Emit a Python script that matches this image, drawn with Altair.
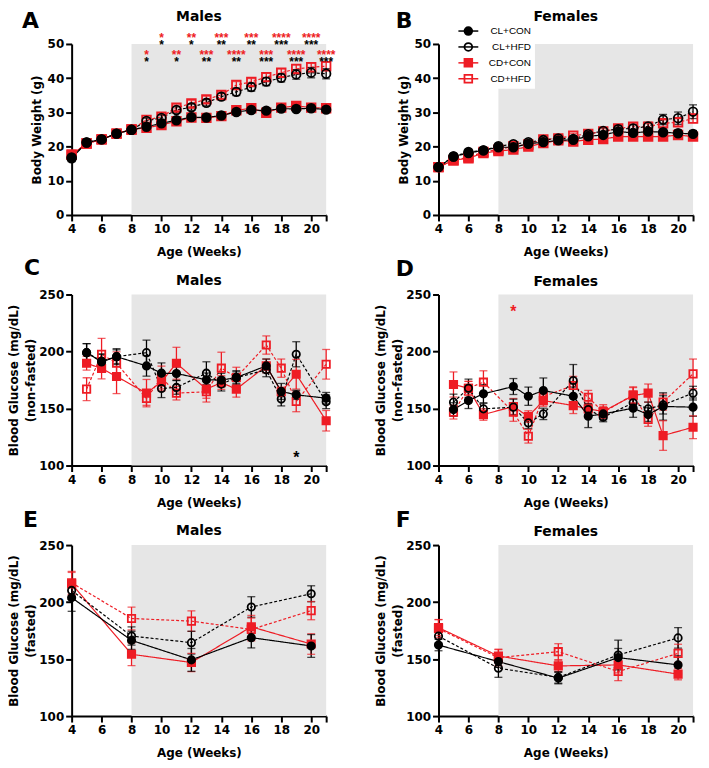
import altair as alt
import pandas as pd

RED = "#ee1c24"
GREY = "#e6e6e6"
FONT = "DejaVu Sans"

GROUPS = ["CL+CON", "CL+HFD", "CD+CON", "CD+HFD"]
DRAW_ORDER = ["CD+HFD", "CD+CON", "CL+HFD", "CL+CON"]
GROUP_COLORS = ["black", "black", RED, RED]
GROUP_FILLS = ["black", "transparent", RED, "transparent"]
GROUP_SHAPES = ["circle", "circle", "square", "square"]
GROUP_DASH = [[1, 0], [3, 2], [1, 0], [3, 2]]

DIET_START = 8
X_TICKS = [4, 6, 8, 10, 12, 14, 16, 18, 20, 21]

# ---------------- Panel A: body weight, males ----------------
BW_WEEKS = [4, 5, 6, 7, 8, 9, 10, 11, 12, 13, 14, 15, 16, 17, 18, 19, 20, 21]
A_CL_CON = [16.6, 21.2, 22.1, 23.8, 24.9, 25.8, 26.8, 27.7, 28.6, 28.5, 29.1, 30.1, 30.7, 30.5, 31.1, 31.0, 31.2, 30.8]
A_CL_HFD = [16.8, 21.2, 22.1, 23.8, 24.9, 27.5, 28.4, 30.7, 31.5, 32.8, 34.6, 36.0, 37.4, 39.0, 40.1, 41.1, 41.6, 41.3]
A_CD_CON = [17.6, 20.9, 22.1, 23.8, 25.0, 25.5, 26.3, 27.4, 28.5, 28.4, 28.9, 30.6, 31.2, 29.9, 31.4, 31.9, 31.4, 31.2]
A_CD_HFD = [17.6, 20.9, 22.1, 23.8, 25.0, 27.8, 28.7, 31.4, 32.6, 33.8, 35.1, 38.0, 38.9, 40.3, 41.6, 42.7, 43.2, 43.5]
A_CL_CON_SEM = [1.0, 0.6, 0.5, 0.5, 0.5, 0.6, 0.6, 0.6, 0.6, 0.6, 0.6, 0.6, 0.6, 0.7, 0.7, 0.7, 0.7, 0.7]
A_CL_HFD_SEM = [0.8, 0.6, 0.5, 0.5, 0.5, 0.8, 0.8, 0.9, 0.9, 0.9, 1.0, 1.1, 1.2, 1.2, 1.2, 1.4, 1.5, 1.5]
A_CD_CON_SEM = [0.8, 0.6, 0.5, 0.5, 0.5, 0.5, 0.6, 0.6, 0.6, 0.6, 0.6, 0.6, 0.6, 0.6, 0.6, 0.6, 0.6, 0.6]
A_CD_HFD_SEM = [0.8, 0.6, 0.5, 0.5, 0.5, 0.7, 0.8, 0.8, 0.9, 0.9, 1.0, 1.0, 1.0, 1.1, 1.1, 1.2, 1.2, 1.2]

A_STAR_WEEKS = [9, 10, 11, 12, 13, 14, 15, 16, 17, 18, 19, 20, 21]
A_STAR_RED = ["*", "*", "**", "**", "***", "***", "****", "***", "***", "****", "****", "****", "****"]
A_STAR_BLACK = ["*", "*", "*", "*", "**", "**", "**", "**", "***", "***", "***", "***", "***"]

# ---------------- Panel B: body weight, females ----------------
B_CL_CON = [14.0, 17.1, 18.1, 18.9, 19.8, 19.8, 20.8, 21.3, 21.8, 22.0, 23.0, 23.4, 24.4, 24.0, 24.4, 24.2, 23.9, 23.7]
B_CL_HFD = [14.0, 17.1, 18.4, 18.9, 20.1, 20.7, 21.3, 21.9, 22.4, 22.2, 23.6, 24.6, 25.1, 25.3, 25.9, 27.9, 28.3, 30.2]
B_CD_CON = [14.0, 16.0, 16.6, 18.1, 18.7, 19.1, 20.0, 21.0, 21.8, 21.5, 22.0, 22.2, 22.9, 22.9, 22.9, 22.9, 23.4, 22.9]
B_CD_HFD = [14.0, 16.0, 16.9, 18.4, 19.1, 20.1, 20.6, 22.1, 22.4, 23.2, 23.7, 24.4, 25.3, 25.8, 25.8, 26.8, 27.1, 28.2]
B_CL_CON_SEM = [0.7, 0.5, 0.5, 0.5, 0.5, 0.5, 0.5, 0.6, 0.6, 0.6, 0.7, 0.7, 0.8, 0.8, 0.9, 0.9, 1.0, 1.0]
B_CL_HFD_SEM = [0.7, 0.5, 0.5, 0.5, 0.5, 0.5, 0.6, 0.6, 0.7, 0.7, 0.8, 0.9, 1.0, 1.1, 1.2, 1.5, 1.8, 2.0]
B_CD_CON_SEM = [0.7, 0.5, 0.5, 0.5, 0.5, 0.5, 0.5, 0.5, 0.5, 0.5, 0.6, 0.6, 0.6, 0.6, 0.6, 0.6, 0.7, 0.7]
B_CD_HFD_SEM = [0.7, 0.5, 0.5, 0.5, 0.5, 0.5, 0.6, 0.6, 0.6, 0.7, 0.7, 0.8, 0.8, 0.9, 0.9, 1.0, 1.1, 1.2]

# ---------------- Panels C/D: non-fasted glucose ----------------
NF_WEEKS = [5, 6, 7, 9, 10, 11, 13, 14, 15, 17, 18, 19, 21]
C_CL_CON = [199.0, 190.9, 195.5, 187.4, 181.0, 180.7, 175.2, 174.9, 177.2, 187.4, 165.0, 162.0, 159.1]
C_CL_HFD = [199.0, 191.5, 195.5, 199.0, 167.6, 168.5, 181.0, 171.4, 177.2, 183.9, 158.3, 197.6, 155.9]
C_CD_CON = [189.7, 185.1, 178.1, 163.5, 173.4, 189.7, 167.0, 172.8, 167.0, 187.4, 164.7, 180.1, 139.3]
C_CD_HFD = [167.0, 197.6, 189.7, 158.8, 177.2, 163.5, 164.7, 185.4, 177.2, 205.7, 185.4, 156.2, 188.8]
C_CL_CON_SEM = [8, 7, 7, 9, 9, 6, 6, 6, 6, 6, 7, 4, 5]
C_CL_HFD_SEM = [8, 6, 6, 11, 8, 6, 10, 6, 5, 6, 6, 11, 6]
C_CD_CON_SEM = [6, 9, 15, 12, 8, 14, 8, 6, 7, 6, 4, 13, 9]
C_CD_HFD_SEM = [10, 14, 10, 6, 10, 6, 9, 14, 9, 8, 8, 9, 13]

D_CL_CON = [149.1, 157.0, 162.9, 169.3, 160.8, 165.8, 160.8, 143.3, 145.3, 150.3, 144.7, 151.8, 151.2]
D_CL_HFD = [155.6, 167.8, 149.7, 151.2, 137.4, 145.3, 174.6, 149.1, 142.4, 155.0, 149.7, 153.2, 163.5]
D_CD_CON = [171.1, 167.8, 144.7, 151.8, 143.0, 157.0, 152.6, 149.7, 147.4, 161.4, 163.5, 126.3, 133.6]
D_CD_HFD = [146.8, 167.8, 173.1, 146.8, 125.7, 160.5, 170.2, 159.9, 146.8, 162.0, 140.4, 155.6, 180.4]
D_CL_CON_SEM = [6, 7, 8, 7, 8, 11, 8, 10, 5, 8, 6, 12, 8]
D_CL_HFD_SEM = [7, 8, 5, 7, 5, 5, 14, 5, 4, 5, 6, 8, 6]
D_CD_CON_SEM = [11, 6, 5, 7, 5, 5, 7, 5, 6, 7, 8, 13, 10]
D_CD_HFD_SEM = [6, 6, 10, 8, 6, 6, 8, 6, 5, 7, 6, 7, 13]

# ---------------- Panels E/F: fasted glucose ----------------
F_WEEKS = [4, 8, 12, 16, 20]
E_CL_CON = [203.9, 166.4, 149.3, 168.8, 161.5]
E_CL_HFD = [210.2, 170.2, 164.4, 195.7, 207.3]
E_CD_CON = [216.0, 154.2, 147.0, 178.3, 163.2]
E_CD_HFD = [216.9, 185.6, 183.3, 176.0, 192.5]
E_CL_CON_SEM = [12, 8, 10, 9, 10]
E_CL_HFD_SEM = [8, 8, 10, 9, 7]
E_CD_CON_SEM = [10, 10, 8, 10, 9]
E_CD_HFD_SEM = [10, 10, 9, 10, 8]

F_CL_CON = [162.3, 147.8, 133.3, 151.3, 144.9]
F_CL_HFD = [170.1, 142.0, 133.9, 153.6, 168.6]
F_CD_CON = [177.6, 152.7, 144.0, 144.9, 136.8]
F_CD_HFD = [176.7, 151.3, 156.5, 139.1, 155.0]
F_CL_CON_SEM = [5, 5, 5, 8, 8]
F_CL_HFD_SEM = [6, 8, 5, 13, 9]
F_CD_CON_SEM = [7, 6, 5, 7, 5]
F_CD_HFD_SEM = [8, 7, 7, 8, 8]

W, H = 256, 172
BW_TICKS = [0, 10, 20, 30, 40, 50]
BG_TICKS = [100, 150, 200, 250]


def make_panel(weeks, series, sems, ydom, yticks, ytitle, title, letter,
               letter_pos, title_y, stars=None, legend=False, msize=70):
    rows = []
    for g in DRAW_ORDER:
        i = GROUPS.index(g)
        for w, v, s in zip(weeks, series[i], sems[i]):
            rows.append({"week": w, "value": v, "lo": v - s, "hi": v + s, "group": g})
    df = pd.DataFrame(rows)

    xs = alt.Scale(domain=[4, 21], nice=False, zero=False)
    ys = alt.Scale(domain=ydom, nice=False, zero=False)
    two_line = isinstance(ytitle, list)
    xaxis = alt.Axis(values=X_TICKS, labelExpr="datum.value == 21 ? '' : datum.label",
                     title="Age (Weeks)", titleX=W / 2, titleY=37, titleBaseline="middle",
                     titleAlign="center", labelFlush=False, labelPadding=3)
    yaxis = alt.Axis(values=yticks, title=ytitle, titleAngle=270, titleAlign="center",
                     titleBaseline="middle", titleX=-58 if two_line else -35,
                     titleY=H / 2, titleLineHeight=17, labelPadding=2)

    def X(f):
        return alt.X(f, type="quantitative", scale=xs, axis=xaxis)

    def Y(f):
        return alt.Y(f, type="quantitative", scale=ys, axis=yaxis)

    stroke_s = alt.Scale(domain=GROUPS, range=GROUP_COLORS)
    fill_s = alt.Scale(domain=GROUPS, range=GROUP_FILLS)
    shape_s = alt.Scale(domain=GROUPS, range=GROUP_SHAPES)
    dash_s = alt.Scale(domain=GROUPS, range=GROUP_DASH)

    shade = alt.Chart(pd.DataFrame({"x0": [DIET_START], "x1": [21],
                                    "y0": [ydom[0]], "y1": [ydom[1]]})).mark_rect(
        color=GREY).encode(x=X("x0"), x2="x1", y=Y("y0"), y2="y1")

    base = alt.Chart(df)
    lines = base.mark_line(strokeWidth=1.2).encode(
        x=X("week"), y=Y("value"),
        stroke=alt.Stroke("group:N", scale=stroke_s, legend=None),
        strokeDash=alt.StrokeDash("group:N", scale=dash_s, legend=None))
    rules = base.mark_rule(strokeWidth=1.3).encode(
        x=X("week"), y=Y("lo"), y2="hi",
        stroke=alt.Stroke("group:N", scale=stroke_s, legend=None))
    cap_lo = base.mark_tick(orient="horizontal", size=8, thickness=1.3).encode(
        x=X("week"), y=Y("lo"), color=alt.Color("group:N", scale=stroke_s, legend=None))
    cap_hi = base.mark_tick(orient="horizontal", size=8, thickness=1.3).encode(
        x=X("week"), y=Y("hi"), color=alt.Color("group:N", scale=stroke_s, legend=None))
    points = base.mark_point(opacity=1, strokeWidth=1.8, size=msize).encode(
        x=X("week"), y=Y("value"),
        shape=alt.Shape("group:N", scale=shape_s, legend=None),
        stroke=alt.Stroke("group:N", scale=stroke_s, legend=None),
        fill=alt.Fill("group:N", scale=fill_s, legend=None))

    layers = [shade, lines, rules, cap_lo, cap_hi, points]

    if stars is not None:
        sdf, fsize = stars
        layers.append(alt.Chart(sdf).mark_text(
            font="Liberation Sans", fontWeight="bold", fontSize=fsize,
            baseline="alphabetic", align="center").encode(
            x=X("week"), y=Y("y"), text="t:N", color=alt.Color("c:N", scale=None)))

    layers.append(alt.Chart(pd.DataFrame({"t": [letter]})).mark_text(
        font=FONT, fontWeight="bold", fontSize=22, align="left", baseline="middle",
        color="black").encode(x=alt.value(letter_pos[0]), y=alt.value(letter_pos[1]), text="t:N"))
    layers.append(alt.Chart(pd.DataFrame({"t": [title]})).mark_text(
        font=FONT, fontWeight="bold", fontSize=14, align="center", baseline="middle",
        color="black").encode(x=alt.value(W / 2), y=alt.value(title_y), text="t:N"))

    if legend:
        layers.append(alt.Chart(pd.DataFrame({"t": [0]})).mark_rect(color="white").encode(
            x=alt.value(14), x2=alt.value(97), y=alt.value(-20), y2=alt.value(45)))
        for i, g in enumerate(GROUPS):
            ly = -13 + 16 * i
            lb = alt.Chart(pd.DataFrame({"label": [g]}))
            layers.append(lb.mark_rule(color=GROUP_COLORS[i], strokeWidth=1.5).encode(
                x=alt.value(20), x2=alt.value(40), y=alt.value(ly)))
            layers.append(lb.mark_point(shape=GROUP_SHAPES[i], size=60, fill=GROUP_FILLS[i],
                                        stroke=GROUP_COLORS[i], strokeWidth=1.8, opacity=1).encode(
                x=alt.value(30), y=alt.value(ly)))
            layers.append(lb.mark_text(align="right", baseline="middle", font="Liberation Sans",
                                       fontSize=10, color="black").encode(
                x=alt.value(93), y=alt.value(ly), text="label:N"))

    return alt.layer(*layers).properties(width=W, height=H)


# significance annotations (baseline positions in data units)
star_rows = []
for k, (w, r, b) in enumerate(zip(A_STAR_WEEKS, A_STAR_RED, A_STAR_BLACK)):
    upper = (k % 2 == 1)
    star_rows.append({"week": w, "y": 50.5 if upper else 45.6, "t": r, "c": RED})
    star_rows.append({"week": w, "y": 48.5 if upper else 43.6, "t": b, "c": "black"})
A_STARS = pd.DataFrame(star_rows)
C_STARS = pd.DataFrame({"week": [19], "y": [102.6], "t": ["*"], "c": ["black"]})
D_STARS = pd.DataFrame({"week": [9], "y": [230.5], "t": ["*"], "c": [RED]})

BG_NF = ["Blood Glucose (mg/dL)", "(non-fasted)"]
BG_F = ["Blood Glucose (mg/dL)", "(fasted)"]

pA = make_panel(BW_WEEKS, [A_CL_CON, A_CL_HFD, A_CD_CON, A_CD_HFD],
                [A_CL_CON_SEM, A_CL_HFD_SEM, A_CD_CON_SEM, A_CD_HFD_SEM],
                [0, 50], BW_TICKS, "Body Weight (g)", "Males", "A", (-50, -23), -27,
                stars=(A_STARS, 12), msize=75)
pB = make_panel(BW_WEEKS, [B_CL_CON, B_CL_HFD, B_CD_CON, B_CD_HFD],
                [B_CL_CON_SEM, B_CL_HFD_SEM, B_CD_CON_SEM, B_CD_HFD_SEM],
                [0, 50], BW_TICKS, "Body Weight (g)", "Females", "B", (-43, -23), -27,
                legend=True, msize=75)
pC = make_panel(NF_WEEKS, [C_CL_CON, C_CL_HFD, C_CD_CON, C_CD_HFD],
                [C_CL_CON_SEM, C_CL_HFD_SEM, C_CD_CON_SEM, C_CD_HFD_SEM],
                [100, 250], BG_TICKS, BG_NF, "Males", "C", (-48, -27), -14,
                stars=(C_STARS, 16), msize=55)
pD = make_panel(NF_WEEKS, [D_CL_CON, D_CL_HFD, D_CD_CON, D_CD_HFD],
                [D_CL_CON_SEM, D_CL_HFD_SEM, D_CD_CON_SEM, D_CD_HFD_SEM],
                [100, 250], BG_TICKS, BG_NF, "Females", "D", (-43, -26), -13,
                stars=(D_STARS, 16), msize=55)
pE = make_panel(F_WEEKS, [E_CL_CON, E_CL_HFD, E_CD_CON, E_CD_HFD],
                [E_CL_CON_SEM, E_CL_HFD_SEM, E_CD_CON_SEM, E_CD_HFD_SEM],
                [100, 250], BG_TICKS, BG_F, "Males", "E", (-49, -25), -14, msize=55)
pF = make_panel(F_WEEKS, [F_CL_CON, F_CL_HFD, F_CD_CON, F_CD_HFD],
                [F_CL_CON_SEM, F_CL_HFD_SEM, F_CD_CON_SEM, F_CD_HFD_SEM],
                [100, 250], BG_TICKS, BG_F, "Females", "F", (-43, -25), -13, msize=55)

chart = alt.concat(pA, pB, pC, pD, pE, pF, columns=2,
                   spacing={"row": 80, "column": 113}, bounds="flush").properties(
    padding={"left": 0, "top": 0, "right": 0, "bottom": 0}
).configure_view(strokeWidth=0).configure_axis(
    domainColor="black", domainWidth=2, tickColor="black", tickWidth=2, tickSize=6,
    labelFont=FONT, labelFontWeight="bold", labelFontSize=12, labelColor="black",
    titleFont=FONT, titleFontWeight="bold", titleFontSize=12, titleColor="black",
    grid=False)

chart.save("out.html", embed_options={"renderer": "svg", "actions": False})
